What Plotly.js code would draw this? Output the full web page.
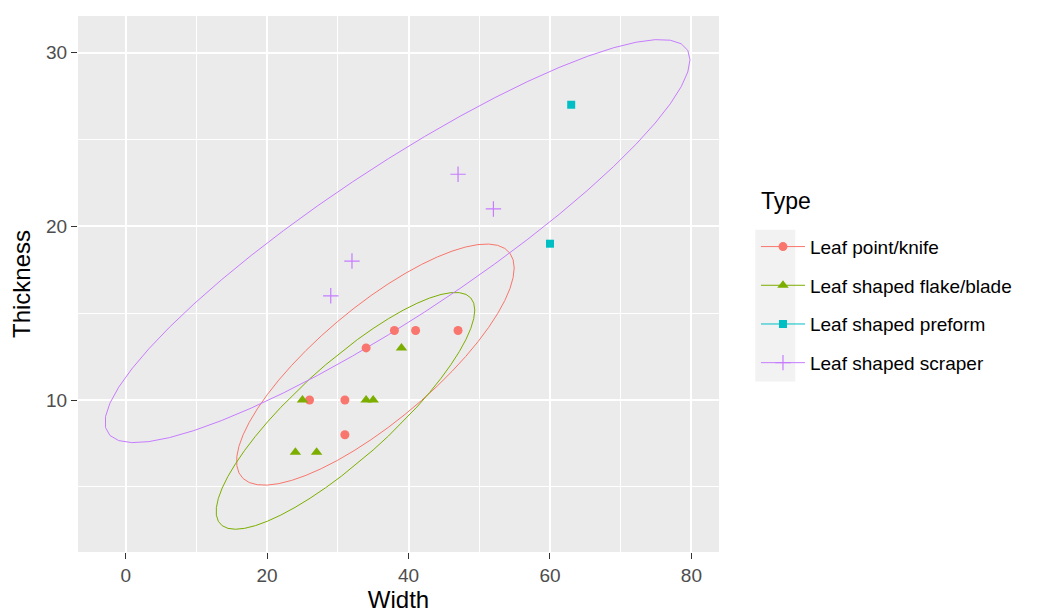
<!DOCTYPE html>
<html>
<head>
<meta charset="utf-8">
<script src="https://cdn.plot.ly/plotly-3.0.1.min.js"></script>
<style>html,body{margin:0;padding:0;background:#fff;}#chart{width:1038px;height:615px;}</style>
</head>
<body>
<div id="chart"></div>
<script>
// ---- data ----
const types = ["Leaf point/knife", "Leaf shaped flake/blade", "Leaf shaped preform", "Leaf shaped scraper"];
const knifeWidth = [26, 31, 31, 34, 38, 41, 47];
const knifeThickness = [10, 10, 8, 13, 14, 14, 14];
const flakeWidth = [24, 25, 27, 34, 35, 39];
const flakeThickness = [7, 10, 7, 10, 10, 13];
const preformWidth = [60, 63];
const preformThickness = [19, 27];
const scraperWidth = [29, 32, 47, 52];
const scraperThickness = [16, 18, 23, 21];
const xTicks = [0, 20, 40, 60, 80];
const yTicks = [10, 20, 30];

// ---- styles ----
const colors = ["#F8766D", "#7CAE00", "#00BFC4", "#C77CFF"];
const symbols = ["circle", "triangle-up", "square", "cross-thin-open"];
const sizes = [9, 10, 8, 11];

// ---- stat_ellipse(type = "t", level = 0.95) ----
function covTrob(xs, ys) {
  const n = xs.length, p = 2, nu = 5, maxit = 25, tol = 0.01;
  let loc = [xs.reduce((a, b) => a + b, 0) / n, ys.reduce((a, b) => a + b, 0) / n];
  let w = new Array(n).fill(1);
  let X = null;
  for (let iter = 0; iter < maxit; iter++) {
    const w0 = w.slice();
    X = xs.map((x, i) => [x - loc[0], ys[i] - loc[1]]);
    const sw = w.reduce((a, b) => a + b, 0);
    let a = 0, b = 0, c = 0;
    for (let i = 0; i < n; i++) {
      const f = w[i] / sw;
      a += f * X[i][0] * X[i][0];
      b += f * X[i][0] * X[i][1];
      c += f * X[i][1] * X[i][1];
    }
    const det = a * c - b * b;
    const i0 = c / det, i1 = -b / det, i2 = a / det;
    const Q = X.map(v => v[0] * v[0] * i0 + 2 * v[0] * v[1] * i1 + v[1] * v[1] * i2);
    w = Q.map(q => (nu + p) / (nu + q));
    const sw2 = w.reduce((s, v) => s + v, 0);
    loc = [xs.reduce((s, v, i) => s + w[i] * v, 0) / sw2, ys.reduce((s, v, i) => s + w[i] * v, 0) / sw2];
    if (w.every((v, i) => Math.abs(v - w0[i]) < tol)) break;
  }
  let s11 = 0, s12 = 0, s22 = 0;
  for (let i = 0; i < n; i++) {
    s11 += w[i] * X[i][0] * X[i][0];
    s12 += w[i] * X[i][0] * X[i][1];
    s22 += w[i] * X[i][1] * X[i][1];
  }
  return { cov: [s11 / n, s12 / n, s22 / n], center: loc };
}
function ellipse(xs, ys, level) {
  const n = xs.length;
  if (n < 3) return null;
  const dfd = n - 1;
  const qf = (dfd / 2) * (Math.pow(1 - level, -2 / dfd) - 1);
  const radius = Math.sqrt(2 * qf);
  const v = covTrob(xs, ys);
  const r11 = Math.sqrt(v.cov[0]);
  const r12 = v.cov[1] / r11;
  const r22 = Math.sqrt(v.cov[2] - r12 * r12);
  const segs = 51, ex = [], ey = [];
  for (let k = 0; k <= segs; k++) {
    const t = k * 2 * Math.PI / segs;
    const cs = Math.cos(t), sn = Math.sin(t);
    ex.push(v.center[0] + radius * cs * r11);
    ey.push(v.center[1] + radius * (cs * r12 + sn * r22));
  }
  return { x: ex, y: ey };
}

const groups = [
  [knifeWidth, knifeThickness],
  [flakeWidth, flakeThickness],
  [preformWidth, preformThickness],
  [scraperWidth, scraperThickness]
];

const traces = [];
groups.forEach((g, k) => {
  const el = ellipse(g[0], g[1], 0.95);
  if (el) {
    traces.push({
      type: "scatter", mode: "lines", x: el.x, y: el.y,
      line: { color: colors[k], width: 1 }, legendgroup: "g" + k,
      showlegend: false, hoverinfo: "skip"
    });
  }
});
groups.forEach((g, k) => {
  // isolate each point (null between) so no connecting line is drawn,
  // while the legend still shows line + symbol as ggplot does
  const px = [], py = [];
  g[0].forEach((x, i) => { px.push(x, null); py.push(g[1][i], null); });
  traces.push({
    type: "scatter", mode: "lines+markers", x: px, y: py, name: types[k],
    connectgaps: false, legendgroup: "g" + k,
    line: { color: colors[k], width: 1 },
    marker: {
      color: colors[k], symbol: symbols[k], size: sizes[k],
      line: { color: colors[k], width: symbols[k] === "cross-thin-open" ? 1.2 : 0 }
    }
  });
});

const font = "'Liberation Sans', Arimo, Arial, sans-serif";
const layout = {
  width: 1038, height: 615,
  margin: { l: 78, r: 319, t: 16, b: 63 },
  paper_bgcolor: "#FFFFFF", plot_bgcolor: "#EBEBEB",
  font: { family: font, color: "#000" },
  showlegend: true,
  xaxis: {
    range: [-6.74, 83.9], tickvals: xTicks, ticktext: xTicks.map(String),
    showgrid: true, gridcolor: "#FFFFFF", gridwidth: 2, zeroline: false, showline: false,
    ticks: "outside", ticklen: 6, tickwidth: 1, tickcolor: "#333333",
    tickfont: { family: font, size: 19, color: "#4D4D4D" },
    minor: { tickvals: [10, 30, 50, 70], showgrid: true, gridcolor: "#FFFFFF", gridwidth: 1, ticks: "" },
    title: { text: "Width", font: { family: font, size: 24, color: "#000" }, standoff: 4 }
  },
  yaxis: {
    range: [1.25, 32.11], tickvals: yTicks, ticktext: yTicks.map(String),
    showgrid: true, gridcolor: "#FFFFFF", gridwidth: 2, zeroline: false, showline: false,
    ticks: "outside", ticklen: 6, tickwidth: 1, tickcolor: "#333333",
    tickfont: { family: font, size: 19, color: "#4D4D4D" },
    minor: { tickvals: [5, 15, 25], showgrid: true, gridcolor: "#FFFFFF", gridwidth: 1, ticks: "" },
    title: { text: "Thickness", font: { family: font, size: 24, color: "#000" }, standoff: 8 }
  },
  legend: {
    x: 1.0577, xanchor: "left", y: 0.605, yanchor: "top",
    bgcolor: "rgba(0,0,0,0)", borderwidth: 0,
    font: { family: font, size: 19, color: "#000" },
    traceorder: "grouped", tracegroupgap: 11, itemwidth: 44
  },
  annotations: [{
    text: "Type", xref: "paper", yref: "paper", x: 1.062, y: 0.655,
    xanchor: "left", yanchor: "middle", showarrow: false,
    font: { family: font, size: 23, color: "#000" }
  }],
  shapes: [{
    type: "rect", xref: "paper", yref: "paper", layer: "below",
    x0: 1.0565, x1: 1.1189, y0: 0.318, y1: 0.601,
    fillcolor: "#F2F2F2", line: { width: 0 }
  }]
};

Plotly.newPlot("chart", traces, layout, { displayModeBar: false, staticPlot: true });
</script>
</body>
</html>
